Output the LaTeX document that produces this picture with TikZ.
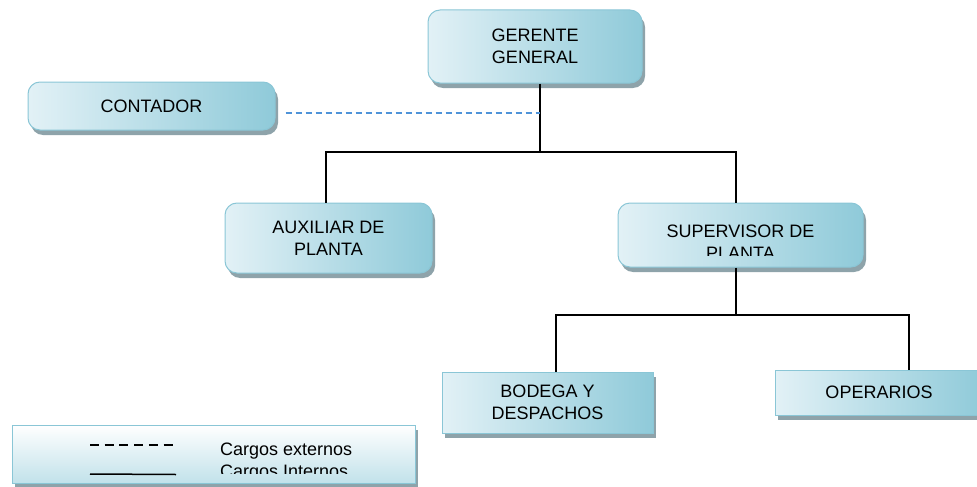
\documentclass[tikz,border=0pt]{standalone}
\usepackage{fontspec}
\setmainfont{Liberation Sans}
\usetikzlibrary{shadows}
\definecolor{boxlight}{HTML}{E2F1F6}
\definecolor{boxdark}{HTML}{8FCAD9}
\definecolor{boxline}{HTML}{8AC6D6}
\definecolor{boxshadow}{HTML}{8EA3AA}
\definecolor{extline}{HTML}{4F93D8}
\tikzset{>=latex,
  cargo/.style={draw=boxline,line width=1pt,left color=boxlight,right color=boxdark,
    general shadow={fill=boxshadow,shadow xshift=3pt,shadow yshift=-5pt},
    align=center,inner sep=0pt,font=\fontsize{18}{22}\selectfont},
  rcargo/.style={cargo,rounded corners=12pt},
  txt/.style={inner sep=0pt,align=center,font=\fontsize{18}{22}\selectfont},
  enlace/.style={line width=1.5pt},
  externo/.style={extline,line width=1.4pt,dash pattern=on 6pt off 4pt}
}

\begin{document}
\begin{tikzpicture}[x=1pt,y=-1pt]
  \useasboundingbox (0,0) rectangle (977,487);
  \node[rcargo,minimum width=214pt,minimum height=73pt] (gerente) at (535,46.5) {GERENTE\\GENERAL};
  \node[rcargo,minimum width=247pt,minimum height=48pt] (contador) at (151.5,106) {CONTADOR};
  \node[rcargo,minimum width=207pt,minimum height=70pt] (auxiliar) at (328.5,238) {AUXILIAR DE\\PLANTA};
  \node[rcargo,minimum width=245pt,minimum height=64pt] (supervisor) at (740.5,235) {};
  \begin{scope}
    \clip (618,203) rectangle (863,255.5);
    \node[txt] (supervisortxt) at (740.5,242) {SUPERVISOR DE\\PLANTA};
  \end{scope}
  \node[cargo,minimum width=211pt,minimum height=61pt] (bodega) at (547.5,402.5) {BODEGA Y\\DESPACHOS};
  \node[cargo,minimum width=208pt,minimum height=45pt] (operarios) at (879,392.5) {OPERARIOS};
  % enlaces
  \coordinate (nudo1) at (540,152);
  \coordinate (nudo2) at (736,315);
  \coordinate (cruce) at (540,113);
  \draw[enlace] ([xshift=5pt]gerente.south) -- (nudo1);
  \draw[enlace] ([xshift=-2.5pt]auxiliar.north) |- (nudo1) -| ([xshift=-4.5pt]supervisor.north);
  \draw[enlace] ([xshift=-4.5pt]supervisor.south) -- (nudo2);
  \draw[enlace] ([xshift=8.5pt]bodega.north) |- (nudo2) -| ([xshift=30pt]operarios.north);
  \draw[externo] ([xshift=10pt,yshift=-7pt]contador.east) -- (cruce);
  % leyenda
  \node[cargo,top color=white,bottom color=boxdark!55!white,minimum width=403pt,minimum height=58pt] (leyenda) at (213.5,454) {};
  \draw[line width=1.5pt,dash pattern=on 9pt off 5.7pt] (90,445) -- (173,445);
  \draw[line width=1.5pt] (90,474) -- (176,474.5);
  \node[txt,anchor=base west] (externos) at (220,455) {Cargos externos};
  \begin{scope}
    \clip (12,425) rectangle (415,473);
    \node[txt,anchor=base west] (internos) at (220,477) {Cargos Internos};
  \end{scope}
\end{tikzpicture}
\end{document}
